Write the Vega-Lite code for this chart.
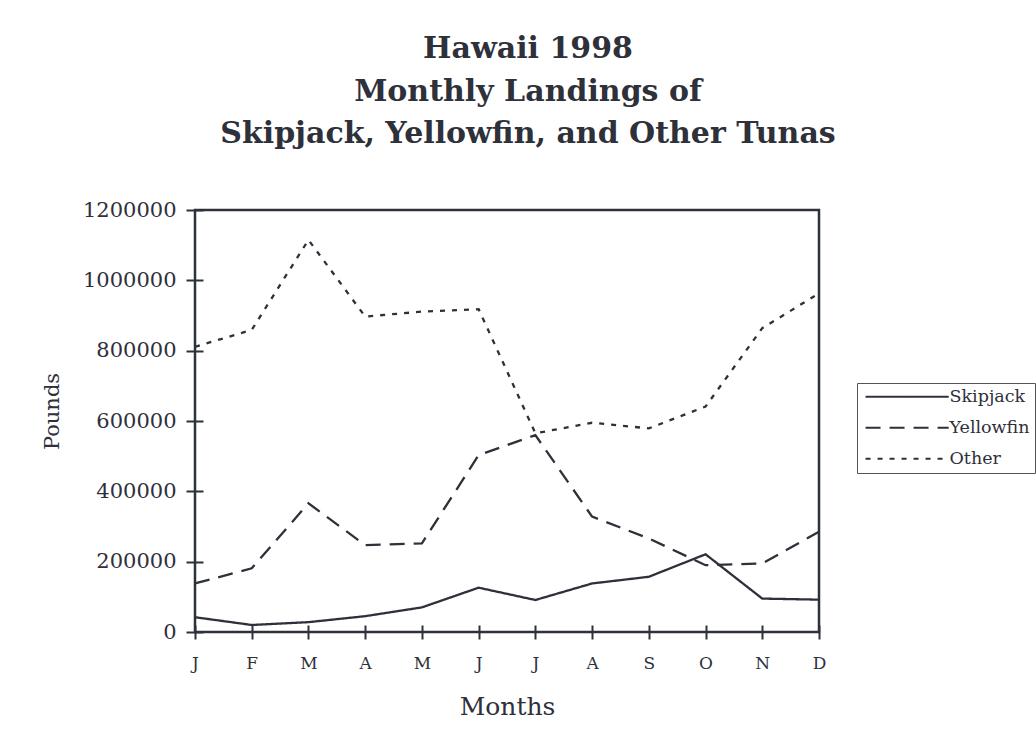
{
  "$schema": "https://vega.github.io/schema/vega-lite/v6.json",
  "autosize": {"type": "none"},
  "width": 624,
  "height": 422,
  "padding": {"left": 195, "top": 210, "right": 217, "bottom": 116},
  "background": "white",
  "title": {
    "text": ["Hawaii 1998", "Monthly Landings of", "Skipjack, Yellowfin, and Other Tunas"],
    "font": "DejaVu Serif",
    "fontSize": 30,
    "fontWeight": "bold",
    "color": "#2e303a",
    "lineHeight": 42.5,
    "anchor": "middle",
    "dx": 21,
    "offset": 50
  },
  "data": {
    "values": [
      {"month": "Jan", "series": "Skipjack", "pounds": 42000},
      {"month": "Feb", "series": "Skipjack", "pounds": 20000},
      {"month": "Mar", "series": "Skipjack", "pounds": 28000},
      {"month": "Apr", "series": "Skipjack", "pounds": 45000},
      {"month": "May", "series": "Skipjack", "pounds": 70000},
      {"month": "Jun", "series": "Skipjack", "pounds": 126000},
      {"month": "Jul", "series": "Skipjack", "pounds": 91000},
      {"month": "Aug", "series": "Skipjack", "pounds": 138000},
      {"month": "Sep", "series": "Skipjack", "pounds": 157000},
      {"month": "Oct", "series": "Skipjack", "pounds": 221000},
      {"month": "Nov", "series": "Skipjack", "pounds": 95000},
      {"month": "Dec", "series": "Skipjack", "pounds": 92000},
      {"month": "Jan", "series": "Yellowfin", "pounds": 138000},
      {"month": "Feb", "series": "Yellowfin", "pounds": 181000},
      {"month": "Mar", "series": "Yellowfin", "pounds": 366000},
      {"month": "Apr", "series": "Yellowfin", "pounds": 247000},
      {"month": "May", "series": "Yellowfin", "pounds": 252000},
      {"month": "Jun", "series": "Yellowfin", "pounds": 503000},
      {"month": "Jul", "series": "Yellowfin", "pounds": 560000},
      {"month": "Aug", "series": "Yellowfin", "pounds": 328000},
      {"month": "Sep", "series": "Yellowfin", "pounds": 266000},
      {"month": "Oct", "series": "Yellowfin", "pounds": 190000},
      {"month": "Nov", "series": "Yellowfin", "pounds": 195000},
      {"month": "Dec", "series": "Yellowfin", "pounds": 285000},
      {"month": "Jan", "series": "Other", "pounds": 811000},
      {"month": "Feb", "series": "Other", "pounds": 859000},
      {"month": "Mar", "series": "Other", "pounds": 1115000},
      {"month": "Apr", "series": "Other", "pounds": 897000},
      {"month": "May", "series": "Other", "pounds": 911000},
      {"month": "Jun", "series": "Other", "pounds": 918000},
      {"month": "Jul", "series": "Other", "pounds": 565000},
      {"month": "Aug", "series": "Other", "pounds": 595000},
      {"month": "Sep", "series": "Other", "pounds": 579000},
      {"month": "Oct", "series": "Other", "pounds": 641000},
      {"month": "Nov", "series": "Other", "pounds": 864000},
      {"month": "Dec", "series": "Other", "pounds": 963000}
    ]
  },
  "mark": {"type": "line", "strokeWidth": 2.3, "color": "#2e303a"},
  "encoding": {
    "x": {
      "field": "month",
      "type": "ordinal",
      "sort": ["Jan", "Feb", "Mar", "Apr", "May", "Jun", "Jul", "Aug", "Sep", "Oct", "Nov", "Dec"],
      "scale": {"type": "point", "padding": 0},
      "axis": {
        "title": "Months",
        "titleFont": "DejaVu Serif",
        "titleFontSize": 25,
        "titleFontWeight": "normal",
        "titleColor": "#2e303a",
        "titlePadding": 23,
        "labelFont": "DejaVu Serif",
        "labelFontSize": 17,
        "labelColor": "#2e303a",
        "labelAngle": 0,
        "labelExpr": "substring(datum.value, 0, 1)",
        "labelPadding": 16,
        "domain": false,
        "grid": false,
        "offset": -7,
        "tickSize": 14,
        "tickWidth": 2,
        "tickColor": "#2e303a"
      }
    },
    "y": {
      "field": "pounds",
      "type": "quantitative",
      "scale": {"domain": [0, 1200000], "nice": false},
      "axis": {
        "title": "Pounds",
        "titleFont": "DejaVu Serif",
        "titleFontSize": 21,
        "titleFontWeight": "normal",
        "titleColor": "#2e303a",
        "titleX": -141,
        "titleY": 201,
        "labelFont": "DejaVu Serif",
        "labelFontSize": 21,
        "labelColor": "#2e303a",
        "labelPadding": 10,
        "values": [0, 200000, 400000, 600000, 800000, 1000000, 1200000],
        "format": "d",
        "domain": false,
        "grid": false,
        "offset": -8,
        "tickSize": 17,
        "tickWidth": 2,
        "tickColor": "#2e303a"
      }
    },
    "strokeDash": {
      "field": "series",
      "type": "nominal",
      "scale": {
        "domain": ["Skipjack", "Yellowfin", "Other"],
        "range": [[1, 0], [15, 9], [5, 7]]
      },
      "legend": {
        "orient": "none",
        "legendX": 662,
        "legendY": 173,
        "title": null,
        "symbolType": "M-1,0H15",
        "symbolSize": 108,
        "symbolStrokeWidth": 2,
        "symbolStrokeColor": "#2e303a",
        "labelOffset": 70,
        "labelFont": "DejaVu Serif",
        "labelFontSize": 17.5,
        "labelColor": "#2e303a",
        "rowPadding": 12,
        "padding": 5,
        "strokeColor": "#555555"
      }
    }
  },
  "config": {"view": {"stroke": "#2e303a", "strokeWidth": 2.5}}
}
